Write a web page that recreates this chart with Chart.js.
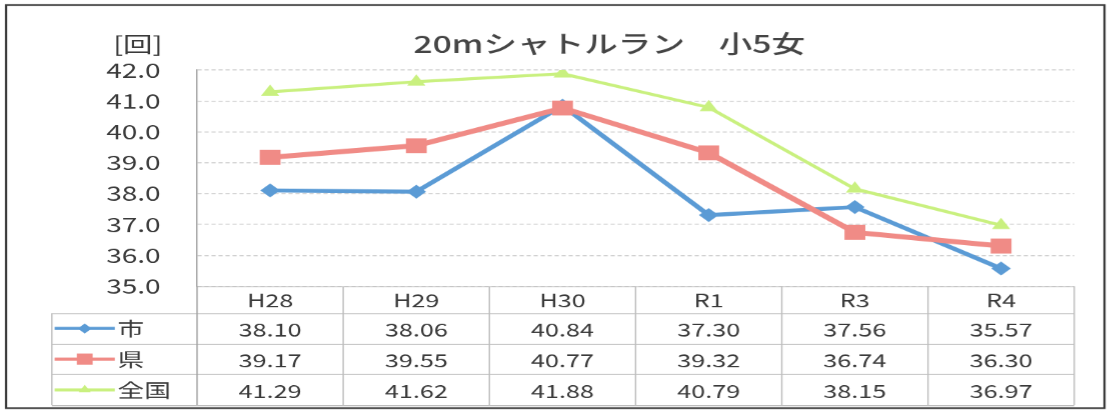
<!DOCTYPE html>
<html>
<head>
<meta charset="utf-8">
<script src="https://cdn.jsdelivr.net/npm/chart.js@4.4.1/dist/chart.umd.min.js"></script>
<style>
  html, body { margin: 0; padding: 0; background: #fff; overflow: hidden; }
  /* the chart is laid out narrow and widened sideways */
  #wrap { width: 791px; height: 413px; transform: scaleX(1.4); transform-origin: 0 0; }
  canvas { display: block; }
</style>
</head>
<body>
<div id="wrap"><canvas id="c" width="791" height="413"></canvas></div>
<script>
// 20mシャトルラン 小5女 — yearly averages
const categories = ['H28', 'H29', 'H30', 'R1', 'R3', 'R4'];
const cityValues = [38.10, 38.06, 40.84, 37.30, 37.56, 35.57];
const prefValues = [39.17, 39.55, 40.77, 39.32, 36.74, 36.30];
const nationValues = [41.29, 41.62, 41.88, 40.79, 38.15, 36.97];
const seriesNames = ['市', '県', '全国'];
const yMin = 35, yMax = 42, yStep = 1;

const FONT = '"Noto Sans CJK JP", "Noto Sans", sans-serif';
const TEXT = '#3a3a3a';

const series = [
  { label: seriesNames[0], data: cityValues, color: '#5b9bd5', width: 4, style: 'rectRot', radius: 7, legendRadius: 5, order: 3 },
  { label: seriesNames[1], data: prefValues, color: '#f08b86', width: 5, style: 'rect', radius: 10.5, legendRadius: 8, order: 2 },
  { label: seriesNames[2], data: nationValues, color: '#c9f07f', width: 3, style: 'triangle', radius: 7.5, legendRadius: 5, order: 1 }
];

// title, unit, frame and the data table under the plot
const tablePlugin = {
  id: 'dataTable',
  afterDraw(chart) {
    const ctx = chart.ctx;
    const area = chart.chartArea;
    const xs = chart.scales.x;
    const colW = (area.right - area.left) / categories.length;
    const legendLeft = 37;
    const headTop = area.bottom;
    const headBottom = 313;
    const rowH = (405 - headBottom) / series.length;
    const tableBottom = headBottom + rowH * series.length;

    ctx.save();

    // outer frame
    ctx.strokeStyle = '#3a3a3a';
    ctx.lineWidth = 1.6;
    ctx.strokeRect(4.3, 5, 784.3, 403);

    // title
    ctx.fillStyle = '#454545';
    ctx.textAlign = 'center';
    ctx.textBaseline = 'middle';
    ctx.font = '500 24px ' + FONT;
    ctx.fillText('20mシャトルラン　小5女', 435, 44);

    // unit
    ctx.fillStyle = TEXT;
    ctx.textAlign = 'right';
    ctx.font = '21px ' + FONT;
    ctx.fillText('[回]', 116, 44);

    // table grid
    ctx.strokeStyle = '#bdbdbd';
    ctx.lineWidth = 1;
    ctx.beginPath();
    ctx.moveTo(area.left, headTop + 0.5);
    ctx.lineTo(area.right, headTop + 0.5);
    for (let r = 0; r <= series.length; r++) {
      const y = Math.round(headBottom + r * rowH) + 0.5;
      ctx.moveTo(legendLeft, y);
      ctx.lineTo(area.right, y);
    }
    ctx.moveTo(legendLeft, headBottom);
    ctx.lineTo(legendLeft, tableBottom);
    for (let c = 1; c <= categories.length; c++) {
      const x = area.left + c * colW;
      ctx.moveTo(x, headTop);
      ctx.lineTo(x, tableBottom);
    }
    ctx.stroke();
    ctx.strokeStyle = '#a0a0a0';
    ctx.beginPath();
    ctx.moveTo(area.left, area.bottom);
    ctx.lineTo(area.left, tableBottom);
    ctx.stroke();

    // header labels
    ctx.fillStyle = TEXT;
    ctx.textAlign = 'center';
    ctx.font = '18px ' + FONT;
    categories.forEach((cat, i) => {
      ctx.fillText(cat, xs.getPixelForValue(i), (headTop + headBottom) / 2 + 1);
    });

    // rows: legend key + values
    series.forEach((s, r) => {
      const yMid = headBottom + rowH * (r + 0.5);
      ctx.strokeStyle = s.color;
      ctx.lineWidth = 3;
      ctx.beginPath();
      ctx.moveTo(39, yMid);
      ctx.lineTo(82, yMid);
      ctx.stroke();
      ctx.fillStyle = s.color;
      Chart.helpers.drawPoint(ctx, { pointStyle: s.style, radius: s.legendRadius, rotation: 0, borderWidth: 0 }, 60.5, yMid);

      ctx.fillStyle = TEXT;
      ctx.textAlign = 'left';
      ctx.font = '19px ' + FONT;
      ctx.fillText(s.label, 84, yMid);

      ctx.textAlign = 'center';
      ctx.font = '18px ' + FONT;
      s.data.forEach((v, i) => {
        ctx.fillText(v.toFixed(2), xs.getPixelForValue(i), yMid + 1);
      });
    });

    ctx.restore();
  }
};

new Chart(document.getElementById('c'), {
  type: 'line',
  data: {
    labels: categories,
    datasets: series.map(s => ({
      label: s.label,
      data: s.data,
      borderColor: s.color,
      backgroundColor: s.color,
      borderWidth: s.width,
      pointStyle: s.style,
      pointRadius: s.radius,
      pointBorderWidth: 0,
      pointBackgroundColor: s.color,
      tension: 0,
      order: s.order
    }))
  },
  options: {
    responsive: false,
    devicePixelRatio: 1.4,
    animation: false,
    events: [],
    layout: { padding: { left: 0, top: 70, right: 24, bottom: 127 } },
    plugins: { legend: { display: false }, title: { display: false }, tooltip: { enabled: false } },
    scales: {
      x: { type: 'category', offset: true, display: false },
      y: {
        min: yMin,
        max: yMax,
        afterFit(scale) { scale.width = 140.7; },
        ticks: {
          stepSize: yStep,
          padding: 26,
          color: TEXT,
          font: { family: FONT, size: 20 },
          callback: v => Number(v).toFixed(1)
        },
        grid: { color: '#cfcfcf', lineWidth: 1, drawTicks: false },
        border: { display: true, color: '#a0a0a0', width: 1, dash: [3, 2] }
      }
    }
  },
  plugins: [tablePlugin]
});
</script>
</body>
</html>
